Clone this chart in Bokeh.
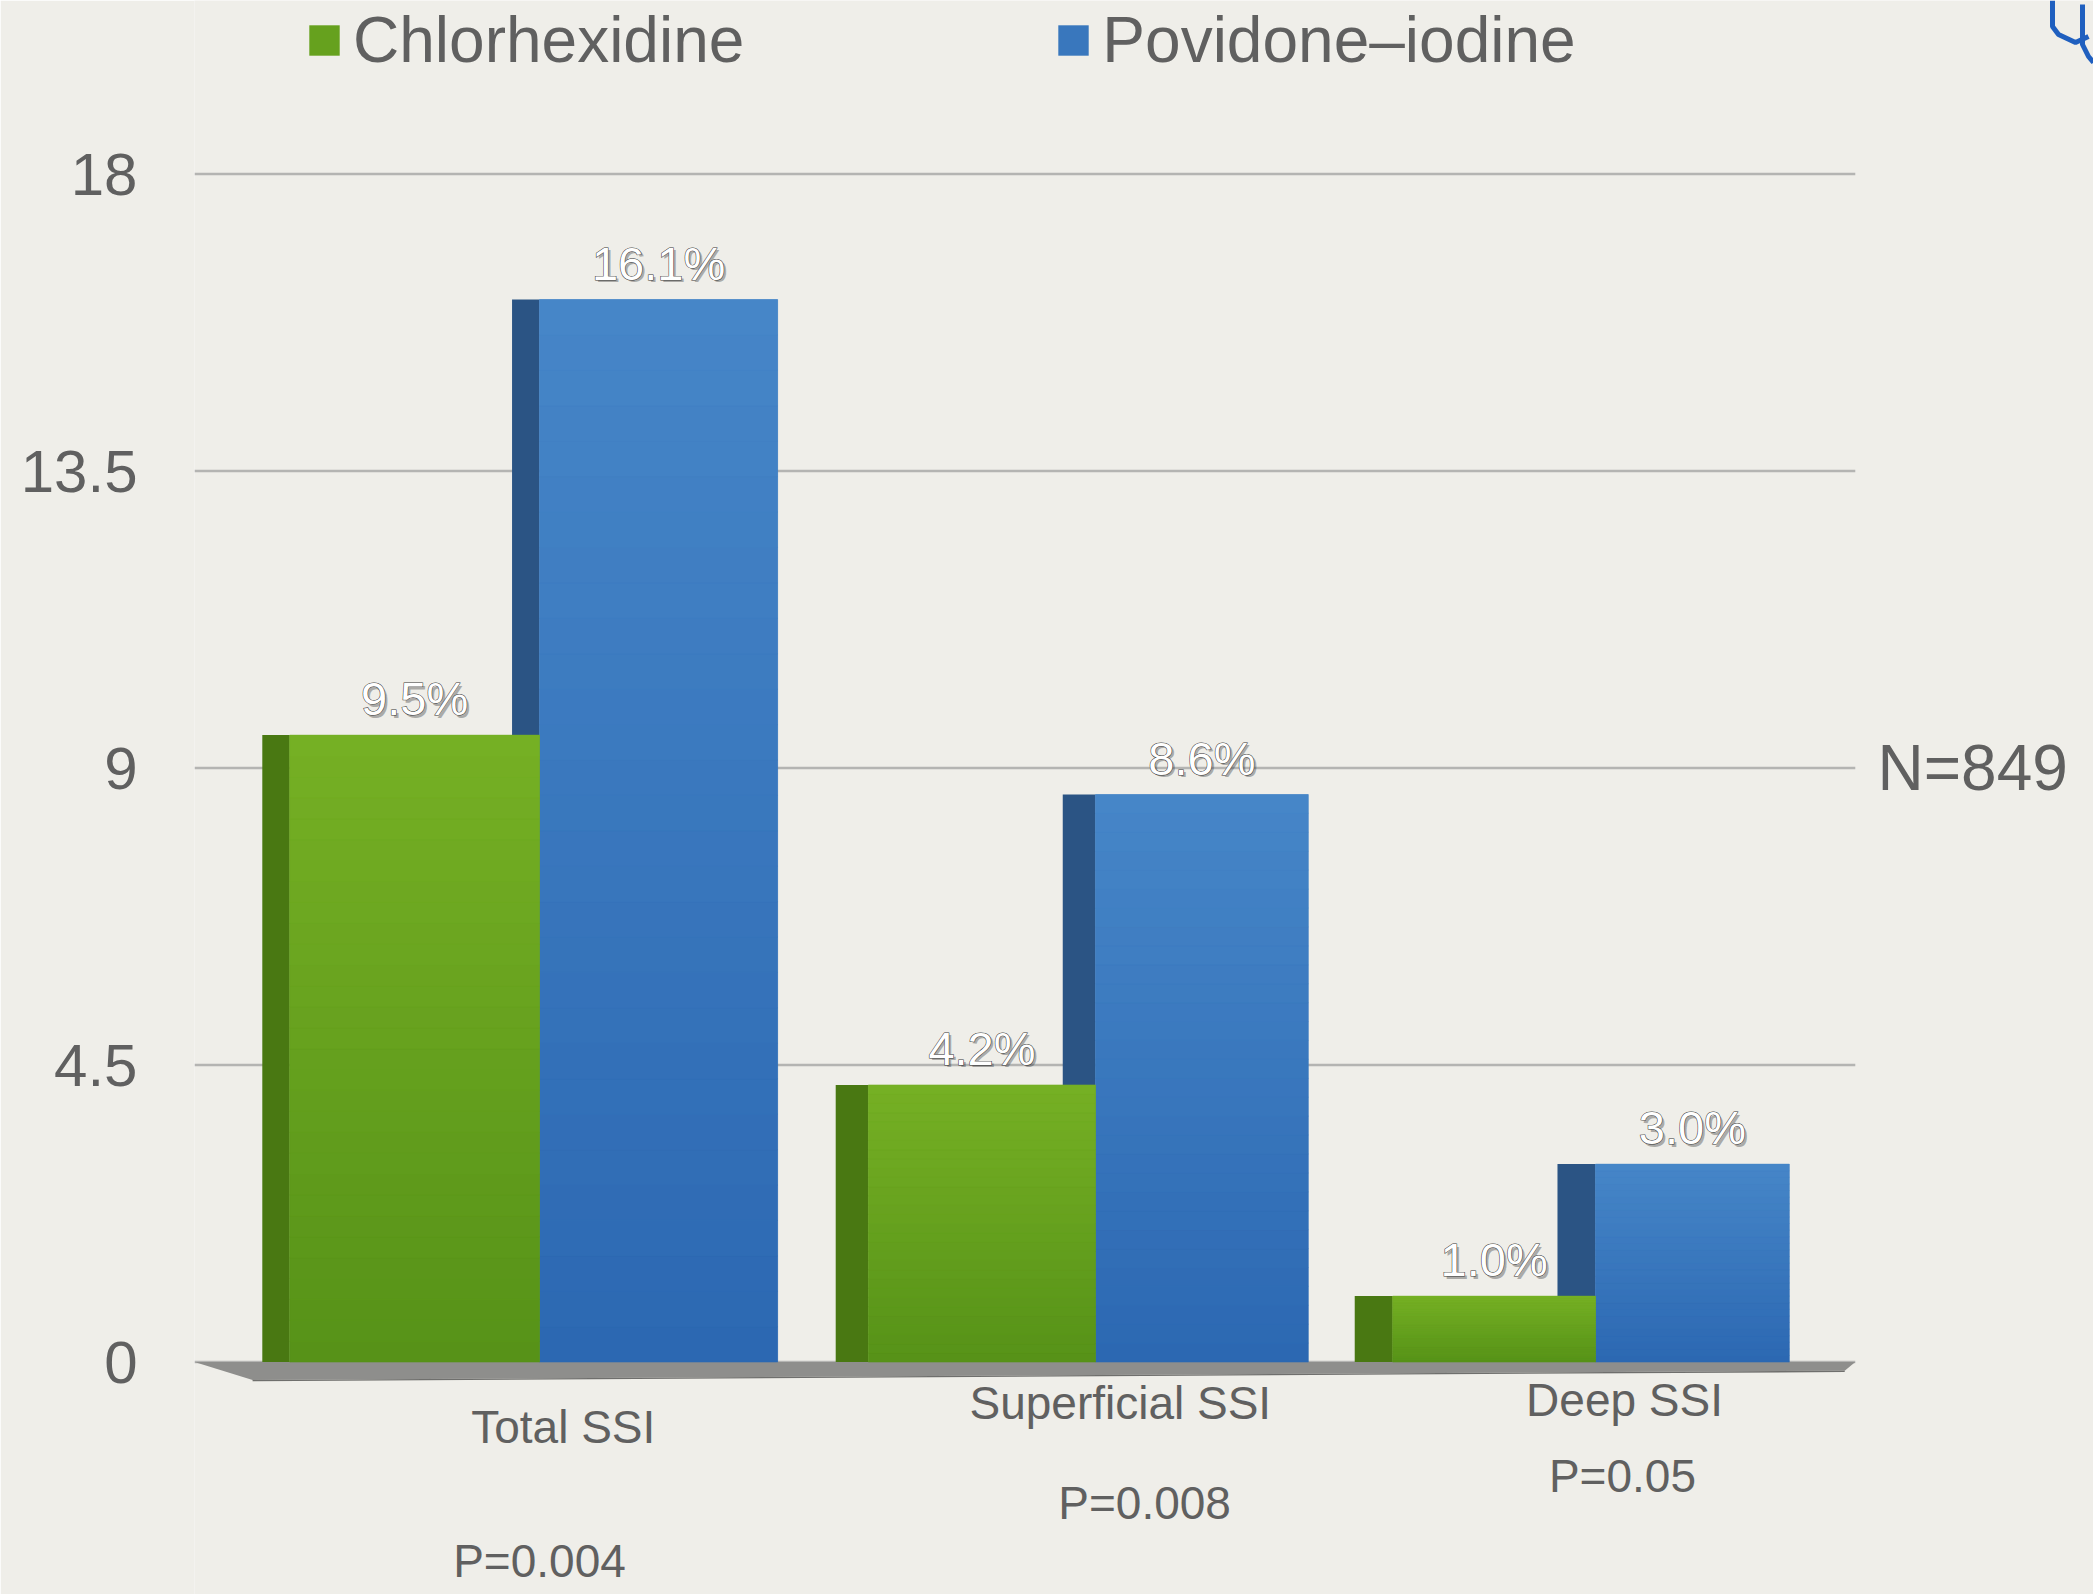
from bokeh.plotting import figure
from bokeh.models import Range1d, FixedTicker, Legend, LegendItem
from bokeh.core.properties import value
from bokeh.embed import file_html
from bokeh.resources import INLINE

# ---- data -------------------------------------------------------------
categories = ["Total SSI", "Superficial SSI", "Deep SSI"]
chlorhexidine = [9.5, 4.2, 1.0]
povidone_iodine = [16.1, 8.6, 3.0]
p_values = ["P=0.004", "P=0.008", "P=0.05"]
series_names = ["Chlorhexidine", "Povidone\u2013iodine"]
y_ticks = [0, 4.5, 9, 13.5, 18]
sample_note = "N=849"

# ---- layout / style ---------------------------------------------------
W, H = 2093, 1594
FRAME_LEFT = 194            # px where the plotting frame starts
X_PX = 528                  # px per category step
Y_PX = 66                   # px per percentage point
X0_PX = 539                 # px of first category centre
Y0_PX = 1361.6              # px of the zero line

# groups get slightly narrower towards the back of the scene
group_x = [0.0, 1.053, 2.0]
green_w = [0.473, 0.430, 0.384]
blue_w = [0.451, 0.403, 0.367]
side_w = [0.052, 0.062, 0.072]
GRID_END = 2.492            # right end of the gridlines / floor

BG = "#efeee9"
TEXT = "#606060"
FONT = value("Liberation Sans")

GREEN_TOP, GREEN_BOT, GREEN_SIDE = (118, 176, 36), (86, 146, 24), "#497812"
BLUE_TOP, BLUE_BOT, BLUE_SIDE = (70, 134, 200), (44, 104, 178), "#2b5484"

# label placement below the floor (data units)
cat_label_y = [-0.98, -0.62, -0.58]
p_label_y = [-3.02, -2.14, -1.72]
cat_shift = [0.045, 0.047, 0.055]
p_shift = [0.0, 0.093, 0.051]

x_lo = -(X0_PX - FRAME_LEFT) / X_PX
x_hi = x_lo + (W - FRAME_LEFT) / X_PX
y_lo = -(H - Y0_PX) / Y_PX
y_hi = Y0_PX / Y_PX

p = figure(width=W, height=H, output_backend="svg", toolbar_location=None,
           x_range=Range1d(x_lo, x_hi), y_range=Range1d(y_lo, y_hi),
           x_axis_location=None, y_axis_location="left",
           min_border_left=FRAME_LEFT, min_border_right=0,
           min_border_top=0, min_border_bottom=0)
p.background_fill_color = BG
p.border_fill_color = BG
p.outline_line_color = None
p.xgrid.visible = False
p.ygrid.visible = False

ax = p.yaxis[0]
ax.ticker = FixedTicker(ticks=y_ticks)
ax.axis_line_color = None
ax.major_tick_line_color = None
ax.minor_tick_line_color = None
ax.major_tick_in = 0
ax.major_tick_out = 0
ax.major_label_standoff = 57
ax.major_label_text_font = "Liberation Sans"
ax.major_label_text_font_size = "60px"
ax.major_label_text_color = TEXT
ax.major_label_overrides = {0: "0", 4.5: "4.5", 9: "9", 13.5: "13.5", 18: "18"}

# gridlines on the back wall
p.segment(x0=[x_lo] * len(y_ticks), y0=y_ticks,
          x1=[GRID_END] * len(y_ticks), y1=y_ticks,
          line_color="#b4b4b2", line_width=2.5)

# floor slab under the bars
p.patch(x=[x_lo, GRID_END, GRID_END - 0.02, x_lo + 0.11],
        y=[0, 0, -0.13, -0.27], fill_color="#8e8e8c", line_color=None)
p.patch(x=[x_lo + 0.11, GRID_END - 0.02, GRID_END - 0.02, x_lo + 0.11],
        y=[-0.27, -0.13, -0.15, -0.29], fill_color="#6f6f6d", line_color=None)

zeros = [0] * len(categories)


def mix(c1, c2, t):
    return "#%02x%02x%02x" % tuple(int(round(a + (b - a) * t)) for a, b in zip(c1, c2))


def gradient_bands(lefts, rights, tops, c_top, c_bot, steps=30):
    ls, rs, bs, ts, cs = [], [], [], [], []
    for l, r, top in zip(lefts, rights, tops):
        for k in range(steps):
            ls.append(l)
            rs.append(r)
            bs.append(top * k / steps)
            ts.append(top * (k + 1) / steps)
            cs.append(mix(c_bot, c_top, (k + 0.5) / steps))
    p.quad(left=ls, right=rs, bottom=bs, top=ts, fill_color=cs, line_color=cs,
           line_width=0.5)


# Povidone-iodine bars (right of each pair)
b_left = list(group_x)
b_right = [c + w for c, w in zip(group_x, blue_w)]
p.quad(left=[c - d for c, d in zip(group_x, side_w)], right=b_left,
       bottom=zeros, top=povidone_iodine, fill_color=BLUE_SIDE, line_color=None)
blue_r = p.quad(left=b_left, right=b_right, bottom=zeros, top=povidone_iodine,
                fill_color=mix(BLUE_TOP, BLUE_BOT, 0.5), line_color=None)
gradient_bands(b_left, b_right, povidone_iodine, BLUE_TOP, BLUE_BOT)

# Chlorhexidine bars (left of each pair)
g_left = [c - w for c, w in zip(group_x, green_w)]
g_right = list(group_x)
p.quad(left=[l - d for l, d in zip(g_left, side_w)], right=g_left,
       bottom=zeros, top=chlorhexidine, fill_color=GREEN_SIDE, line_color=None)
green_r = p.quad(left=g_left, right=g_right, bottom=zeros, top=chlorhexidine,
                 fill_color=mix(GREEN_TOP, GREEN_BOT, 0.5), line_color=None)
gradient_bands(g_left, g_right, chlorhexidine, GREEN_TOP, GREEN_BOT)

# value labels: white with a dark rim and a soft drop shadow
lab_x = ([(l + r) / 2 for l, r in zip(g_left, g_right)] +
         [(l + r) / 2 for l, r in zip(b_left, b_right)])
lab_y = chlorhexidine + povidone_iodine
lab_t = ["%.1f%%" % v for v in lab_y]
lab_style = dict(text_font=FONT, text_font_size="47px",
                 text_align="center", text_baseline="bottom")
p.text(x=lab_x, y=lab_y, text=lab_t, x_offset=2.5, y_offset=-7.5,
       text_color="#2a2a2a", text_alpha=0.35, **lab_style)
p.text(x=lab_x, y=lab_y, text=lab_t, y_offset=-10, text_color="#3a3a3a",
       text_outline_color="#3a3a3a", **lab_style)
p.text(x=lab_x, y=lab_y, text=lab_t, y_offset=-10, text_color="white",
       **lab_style)

# category names and p-values below the floor
p.text(x=[c + s for c, s in zip(group_x, cat_shift)], y=cat_label_y, text=categories,
       text_font=FONT, text_font_size="46px", text_color=TEXT,
       text_align="center", text_baseline="middle")
p.text(x=[c + s for c, s in zip(group_x, p_shift)], y=p_label_y, text=p_values,
       text_font=FONT, text_font_size="46px", text_color=TEXT,
       text_align="center", text_baseline="middle")

# sample size note at the right of the middle gridline
p.text(x=[GRID_END + 0.042], y=[9], text=[sample_note], text_font=FONT,
       text_font_size="64px", text_color=TEXT, text_align="left",
       text_baseline="middle")


# corner emblem
def px(xp):
    return (xp - X0_PX) / X_PX


def py(yp):
    return (Y0_PX - yp) / Y_PX


p.multi_line(xs=[[px(v) for v in (2052, 2052, 2058, 2075, 2088)],
                 [px(v) for v in (2082, 2082, 2088, 2093)]],
             ys=[[py(v) for v in (0, 26, 34, 42, 36)],
                 [py(v) for v in (4, 44, 56, 62)]],
             line_color="#1f5fbf", line_width=5)

legend = Legend(items=[LegendItem(label=series_names[0], renderers=[green_r]),
                       LegendItem(label=series_names[1], renderers=[blue_r])],
                orientation="horizontal", location=(111, 1517),
                label_text_font="Liberation Sans", label_text_font_size="64px",
                label_text_color=TEXT, glyph_width=38, glyph_height=38,
                label_standoff=10, spacing=310, padding=0, margin=0,
                border_line_color=None, background_fill_alpha=0)
p.add_layout(legend, "center")

open("out.html", "w").write(file_html(p, INLINE))
